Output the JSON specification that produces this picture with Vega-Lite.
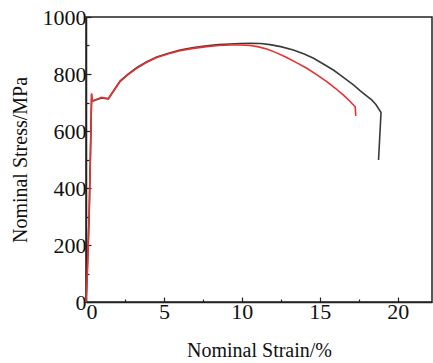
{
  "$schema": "https://vega.github.io/schema/vega-lite/v6.json",
  "width": 346,
  "height": 285,
  "autosize": {"type": "none"},
  "padding": {"left": 86, "top": 17, "right": 1, "bottom": 61},
  "background": "white",
  "config": {
    "view": {"stroke": "#222", "strokeWidth": 1.5},
    "font": "Liberation Serif",
    "axis": {"labelFont": "Liberation Serif", "titleFont": "Liberation Serif"}
  },
  "data": {
    "values": [
      {"s": "black", "i": 0, "x": 0, "y": 0},
      {"s": "black", "i": 1, "x": 0.08, "y": 100},
      {"s": "black", "i": 2, "x": 0.2, "y": 300},
      {"s": "black", "i": 3, "x": 0.3, "y": 560},
      {"s": "black", "i": 4, "x": 0.36, "y": 728},
      {"s": "black", "i": 5, "x": 0.39, "y": 705},
      {"s": "black", "i": 6, "x": 1.0, "y": 716},
      {"s": "black", "i": 7, "x": 1.43, "y": 713},
      {"s": "black", "i": 8, "x": 2.18, "y": 775},
      {"s": "black", "i": 9, "x": 2.7, "y": 800},
      {"s": "black", "i": 10, "x": 3.25, "y": 822},
      {"s": "black", "i": 11, "x": 3.9, "y": 843},
      {"s": "black", "i": 12, "x": 4.54, "y": 860},
      {"s": "black", "i": 13, "x": 5.3, "y": 873},
      {"s": "black", "i": 14, "x": 6.03, "y": 884},
      {"s": "black", "i": 15, "x": 6.9, "y": 893},
      {"s": "black", "i": 16, "x": 7.75, "y": 899},
      {"s": "black", "i": 17, "x": 8.5, "y": 903},
      {"s": "black", "i": 18, "x": 9.24, "y": 905},
      {"s": "black", "i": 19, "x": 9.9, "y": 907},
      {"s": "black", "i": 20, "x": 10.53, "y": 908},
      {"s": "black", "i": 21, "x": 11.2, "y": 907},
      {"s": "black", "i": 22, "x": 11.8, "y": 903},
      {"s": "black", "i": 23, "x": 12.5, "y": 896},
      {"s": "black", "i": 24, "x": 13.3, "y": 884},
      {"s": "black", "i": 25, "x": 14.0, "y": 870},
      {"s": "black", "i": 26, "x": 14.6, "y": 855},
      {"s": "black", "i": 27, "x": 15.2, "y": 836},
      {"s": "black", "i": 28, "x": 15.87, "y": 814},
      {"s": "black", "i": 29, "x": 16.3, "y": 797},
      {"s": "black", "i": 30, "x": 16.73, "y": 779},
      {"s": "black", "i": 31, "x": 17.2, "y": 760},
      {"s": "black", "i": 32, "x": 17.6, "y": 741},
      {"s": "black", "i": 33, "x": 17.9, "y": 728},
      {"s": "black", "i": 34, "x": 18.33, "y": 709},
      {"s": "black", "i": 35, "x": 18.6, "y": 693},
      {"s": "black", "i": 36, "x": 18.93, "y": 665},
      {"s": "black", "i": 37, "x": 18.77, "y": 498},
      {"s": "red", "i": 0, "x": 0, "y": 0},
      {"s": "red", "i": 1, "x": 0.08, "y": 100},
      {"s": "red", "i": 2, "x": 0.2, "y": 300},
      {"s": "red", "i": 3, "x": 0.3, "y": 560},
      {"s": "red", "i": 4, "x": 0.36, "y": 732},
      {"s": "red", "i": 5, "x": 0.39, "y": 703},
      {"s": "red", "i": 6, "x": 1.0, "y": 718},
      {"s": "red", "i": 7, "x": 1.43, "y": 713},
      {"s": "red", "i": 8, "x": 2.18, "y": 773},
      {"s": "red", "i": 9, "x": 2.7, "y": 798},
      {"s": "red", "i": 10, "x": 3.25, "y": 820},
      {"s": "red", "i": 11, "x": 3.9, "y": 841},
      {"s": "red", "i": 12, "x": 4.54, "y": 858},
      {"s": "red", "i": 13, "x": 5.3, "y": 871},
      {"s": "red", "i": 14, "x": 6.03, "y": 882},
      {"s": "red", "i": 15, "x": 6.9, "y": 890},
      {"s": "red", "i": 16, "x": 7.75, "y": 896},
      {"s": "red", "i": 17, "x": 8.5, "y": 900},
      {"s": "red", "i": 18, "x": 9.24, "y": 902},
      {"s": "red", "i": 19, "x": 9.9, "y": 902},
      {"s": "red", "i": 20, "x": 10.53, "y": 900},
      {"s": "red", "i": 21, "x": 11.0, "y": 896},
      {"s": "red", "i": 22, "x": 11.6, "y": 888},
      {"s": "red", "i": 23, "x": 12.2, "y": 875},
      {"s": "red", "i": 24, "x": 12.88, "y": 858},
      {"s": "red", "i": 25, "x": 13.5, "y": 840},
      {"s": "red", "i": 26, "x": 14.17, "y": 820},
      {"s": "red", "i": 27, "x": 14.8, "y": 798},
      {"s": "red", "i": 28, "x": 15.45, "y": 773},
      {"s": "red", "i": 29, "x": 16.0, "y": 750},
      {"s": "red", "i": 30, "x": 16.52, "y": 726},
      {"s": "red", "i": 31, "x": 16.9, "y": 706},
      {"s": "red", "i": 32, "x": 17.27, "y": 685},
      {"s": "red", "i": 33, "x": 17.31, "y": 653}
    ]
  },
  "mark": {"type": "line", "strokeWidth": 1.6},
  "encoding": {
    "x": {
      "field": "x", "type": "quantitative",
      "scale": {"domain": [0, 22.2], "nice": false, "zero": false},
      "axis": {
        "values": [0, 2.5, 5, 7.5, 10, 12.5, 15, 17.5, 20],
        "labelExpr": "datum.value % 5 === 0 ? datum.label : ''",
        "format": "d",
        "title": "Nominal Strain/%",
        "titleFontSize": 20, "titleFontWeight": "normal", "titleColor": "#111",
        "titlePadding": 18,
        "labelFontSize": 22, "labelColor": "#111", "labelPadding": 4,
        "tickSize": {"condition": {"test": "datum.value % 5 === 0", "value": -5}, "value": -3},
        "tickColor": "#222", "tickWidth": 1.2,
        "domainColor": "#222", "domainWidth": 1.5, "grid": false
      }
    },
    "y": {
      "field": "y", "type": "quantitative",
      "scale": {"domain": [0, 1000], "nice": false},
      "axis": {
        "values": [0, 100, 200, 300, 400, 500, 600, 700, 800, 900, 1000],
        "labelExpr": "datum.value % 200 === 0 ? datum.label : ''",
        "format": "d",
        "title": "Nominal Stress/MPa",
        "titleFontSize": 20, "titleFontWeight": "normal", "titleColor": "#111",
        "titlePadding": 12,
        "labelFontSize": 22, "labelColor": "#111", "labelPadding": 5,
        "tickSize": {"condition": {"test": "datum.value % 200 === 0", "value": -5}, "value": -3},
        "tickColor": "#222", "tickWidth": 1.2,
        "domainColor": "#222", "domainWidth": 1.5, "grid": false
      }
    },
    "color": {
      "field": "s", "type": "nominal",
      "scale": {"domain": ["black", "red"], "range": ["#3a3a3a", "#e8302f"]},
      "legend": null
    },
    "order": {"field": "i", "type": "quantitative"}
  }
}
